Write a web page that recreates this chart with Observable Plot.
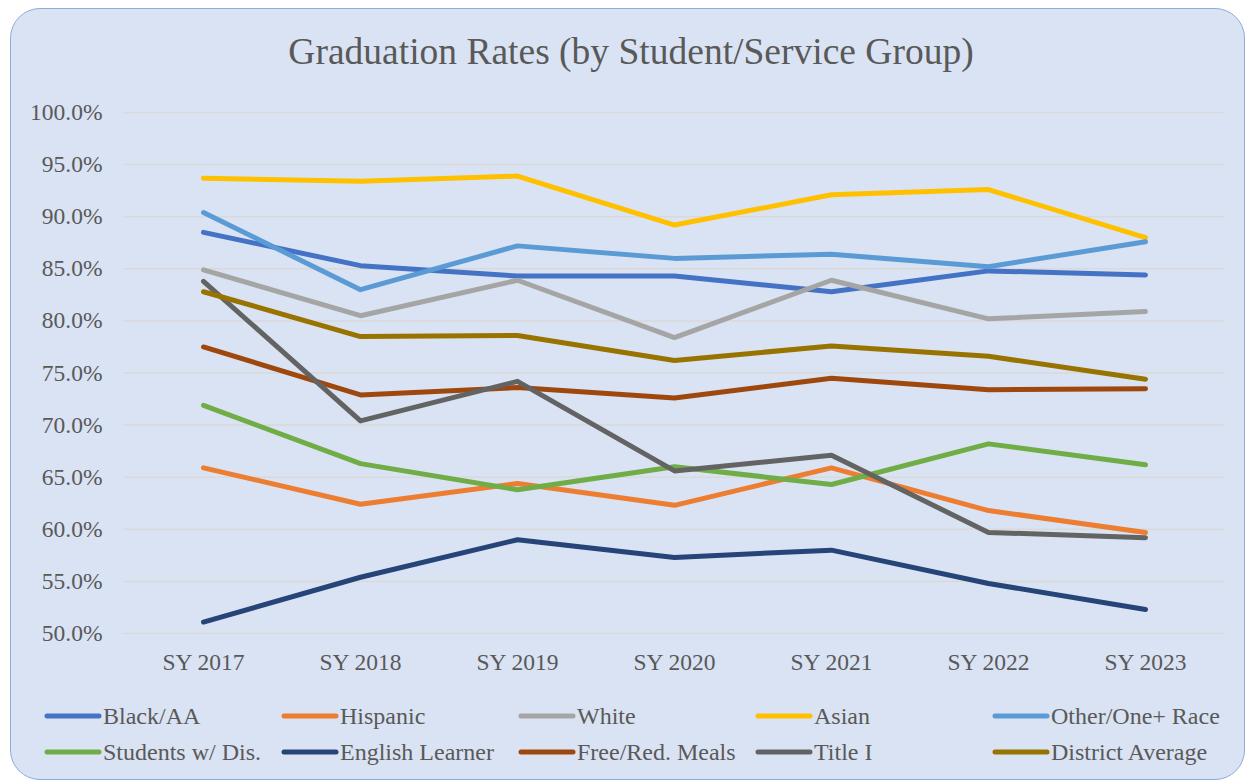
<!DOCTYPE html>
<html>
<head>
<meta charset="utf-8">
<script src="https://cdn.jsdelivr.net/npm/d3@7"></script>
<script src="https://cdn.jsdelivr.net/npm/@observablehq/plot@0.6"></script>
<style>
  html, body { margin: 0; padding: 0; background: #ffffff; }
  #page { position: relative; width: 1248px; height: 782px; overflow: hidden; }
  #box { position: absolute; left: 10px; top: 8px; width: 1233px; height: 770px;
         background: #dae3f3; border: 1.5px solid #8faadc; border-radius: 30px; }
  #title { position: absolute; left: 0; top: 30px; width: 1262px; text-align: center;
           font-family: "Liberation Serif", "Times New Roman", serif; font-size: 37.5px; color: #595959; }
  #chart { position: absolute; left: 10px; top: 90px; }
  #legend { position: absolute; left: 44px; top: 702px; width: 1200px;
            display: grid; grid-template-columns: repeat(5, 237px); row-gap: 8px;
            font-family: "Liberation Serif", "Times New Roman", serif; font-size: 24px; color: #595959; }
  .item { display: flex; align-items: center; height: 28px; white-space: nowrap; }
  .item svg { margin-right: 1px; }
</style>
</head>
<body>
<div id="page">
  <div id="box"></div>
  <div id="title">Graduation Rates (by Student/Service Group)</div>
  <div id="chart"></div>
  <div id="legend"></div>
</div>
<script>
const years = ["SY 2017", "SY 2018", "SY 2019", "SY 2020", "SY 2021", "SY 2022", "SY 2023"];
const seriesNames = ["Black/AA", "Hispanic", "White", "Asian", "Other/One+ Race",
                     "Students w/ Dis.", "English Learner", "Free/Red. Meals", "Title I", "District Average"];
const seriesColors = ["#4472c4", "#ed7d31", "#a5a5a5", "#ffc000", "#5b9bd5",
                      "#70ad47", "#264478", "#9e480e", "#636363", "#997300"];
const blackAA   = [88.5, 85.3, 84.3, 84.3, 82.8, 84.8, 84.4];
const hispanic  = [65.9, 62.4, 64.4, 62.3, 65.9, 61.8, 59.7];
const white     = [84.9, 80.5, 83.9, 78.4, 83.9, 80.2, 80.9];
const asian     = [93.7, 93.4, 93.9, 89.2, 92.1, 92.6, 88.0];
const other     = [90.4, 83.0, 87.2, 86.0, 86.4, 85.2, 87.6];
const swd       = [71.9, 66.3, 63.8, 66.0, 64.3, 68.2, 66.2];
const el        = [51.1, 55.4, 59.0, 57.3, 58.0, 54.8, 52.3];
const frm       = [77.5, 72.9, 73.6, 72.6, 74.5, 73.4, 73.5];
const title1    = [83.8, 70.4, 74.2, 65.6, 67.1, 59.7, 59.2];
const district  = [82.8, 78.5, 78.6, 76.2, 77.6, 76.6, 74.4];
const yTicks = [50, 55, 60, 65, 70, 75, 80, 85, 90, 95, 100];

const allSeries = [blackAA, hispanic, white, asian, other, swd, el, frm, title1, district];
const data = [];
allSeries.forEach((vals, si) => {
  vals.forEach((v, i) => data.push({series: seriesNames[si], year: years[i], value: v}));
});

const font = '"Liberation Serif", "Times New Roman", serif';
const chart = Plot.plot({
  width: 1235,
  height: 600,
  marginTop: 22,
  marginBottom: 57,
  marginLeft: 113,
  marginRight: 21,
  style: {background: "transparent", fontFamily: font, fontSize: "23.5px", color: "#595959"},
  x: {type: "point", domain: years, padding: 0.5, label: null},
  y: {domain: [50, 100], label: null},
  color: {domain: seriesNames, range: seriesColors},
  marks: [
    Plot.ruleY(yTicks, {stroke: "#d9d9d9", strokeWidth: 1.5}),
    Plot.axisY({ticks: yTicks, tickSize: 0, tickPadding: 21, tickFormat: d => d.toFixed(1) + "%", fontSize: 23.5, label: null}),
    Plot.axisX({tickSize: 0, tickPadding: 20, fontSize: 23.5, label: null}),
    Plot.line(data, {x: "year", y: "value", z: "series", stroke: "series", strokeWidth: 5,
                     strokeLinecap: "round", strokeLinejoin: "round"})
  ]
});
document.getElementById("chart").appendChild(chart);

const legend = document.getElementById("legend");
seriesNames.forEach((name, i) => {
  const item = document.createElement("div");
  item.className = "item";
  item.innerHTML = `<svg width="58" height="10"><line x1="3" y1="5" x2="55" y2="5" stroke="${seriesColors[i]}" stroke-width="5" stroke-linecap="round"/></svg><span>${name}</span>`;
  legend.appendChild(item);
});
</script>
</body>
</html>
